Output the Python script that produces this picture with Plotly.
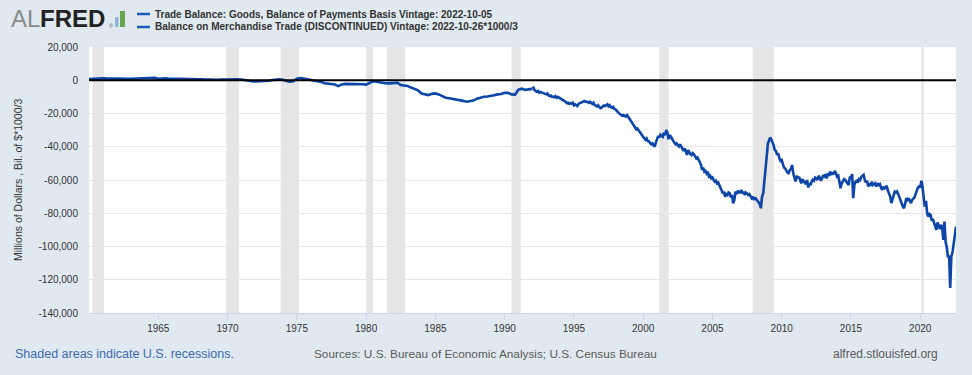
import plotly.graph_objects as go
import pandas as pd

# ---------------- data ----------------
# Balance on Merchandise Trade (DISCONTINUED), quarterly, Bil. of $ * 1000/3
old_start = "1960-01-01"
old_values = [
    700, 900, 1000, 1100,        # 1960
    1200, 1100, 1000, 1000,      # 1961
    1000, 900, 900, 800,         # 1962
    900, 1000, 1100, 1200,       # 1963
    1300, 1300, 1400, 1400,      # 1964
    900, 1200, 1100, 1000,       # 1965
    1000, 900, 800, 700,         # 1966
    900, 900, 1000, 800,         # 1967
    600, 500, 400, 300,          # 1968
    100, 300, 400, 500,          # 1969
    700, 800, 800, 600,          # 1970
    500, 0, -300, -600,          # 1971
    -700, -700, -500, -400,      # 1972
    -300, 100, 400, 500,         # 1973
    300, -500, -800, -600,       # 1974
    900, 1300, 1100, 700,        # 1975
    200, -300, -700, -1000,      # 1976
    -1800, -2100, -2400, -2600,  # 1977
    -3500, -2500, -2200, -2200,  # 1978
    -2300, -2400, -2000, -2400,  # 1979
    -2600, -1800, -600, -900,    # 1980
    -1200, -1800, -1900, -1900,  # 1981
    -1600, -1500, -2800, -3100,  # 1982
    -3500, -4400, -5200, -6100,  # 1983
    -8000, -8600, -8900, -8200,  # 1984
    -7900, -8500, -9500, -10500, # 1985
    -10800, -11100, -11800, -12000,  # 1986
    -12400, -12900, -12700, -12200,  # 1987
    -11100, -10400, -9900, -9800,    # 1988
    -9600, -9000, -8500, -8300,      # 1989
    -7600, -7600, -8500, -8600,      # 1990
    -5700, -5100, -5800, -5400,      # 1991
    -5200,                           # 1992
]

# Trade Balance: Goods, Balance of Payments Basis, monthly, Millions of Dollars
new_start = "1992-01-01"
new_values = [
    -5000, -4500, -6000, -6500, -7000, -6500, -7500, -7000, -7200, -7800, -7600, -8200,            # 1992
    -8500, -8000, -9000, -9500, -9200, -10000, -9800, -10200, -9600, -10500, -10000, -10400,       # 1993
    -10500, -11000, -11200, -12000, -12500, -13000, -13800, -13500, -14200, -13800, -14000, -13500,  # 1994
    -15000, -14500, -14800, -15500, -14200, -13800, -13500, -13200, -12800, -12500, -13000, -12800,  # 1995
    -13200, -13600, -13000, -14000, -14200, -13500, -15000, -15200, -15800, -15000, -16200, -16800,  # 1996
    -16500, -16000, -15200, -15500, -14800, -14500, -15600, -15000, -16200, -16500, -16000, -17200,  # 1997
    -17500, -18000, -19000, -19800, -20200, -20800, -21500, -21000, -21500, -21800, -21000, -22500,  # 1998
    -23000, -24000, -25000, -26500, -27000, -28500, -29500, -29000, -30500, -31000, -32000, -33500,  # 1999
    -34000, -35000, -35800, -35000, -36500, -36800, -37500, -38500, -38000, -39500, -40000, -37500,  # 2000
    -36000, -33500, -34500, -32800, -33500, -34000, -31500, -33000, -30000, -31400, -35500, -33000,  # 2001
    -34000, -35500, -36000, -37500, -38500, -38000, -39000, -39800, -38500, -40000, -41500, -42500,  # 2002
    -41000, -43000, -44900, -42000, -43500, -44500, -45000, -43800, -44500, -45500, -47000, -46500,  # 2003
    -48000, -49500, -50500, -53900, -52500, -55000, -54500, -56000, -55000, -58000, -57500, -59000,  # 2004
    -58500, -59900, -61000, -60500, -62000, -61500, -63000, -64500, -65500, -68000, -67000, -70000,  # 2005
    -68500, -69000, -67500, -68000, -70500, -69000, -74000, -72000, -67000, -68500, -66500, -67500,  # 2006
    -67500, -66000, -68000, -67000, -68900, -67500, -68000, -69000, -68500, -70000, -70900, -70000,  # 2007
    -72000, -70500, -71500, -73000, -74000, -74500, -77000, -70000, -68000, -62000, -54000, -46000,  # 2008
    -38000, -36000, -34500, -35500, -37000, -39000, -42000, -42500, -44900, -44000, -47000, -48500,  # 2009
    -48000, -50500, -52500, -53000, -54500, -55500, -55900, -54000, -53500, -51000, -56000, -58500,  # 2010
    -60900, -57500, -59000, -58000, -60000, -62000, -59500, -60500, -61500, -62500, -60000, -64500,  # 2011
    -62000, -63000, -61000, -59900, -60500, -58500, -59000, -60000, -57500, -58500, -60500, -58000,  # 2012
    -57000, -58500, -56500, -59000, -56000, -57500, -54900, -57000, -55500, -56500, -54500, -56000,  # 2013
    -58000, -57500, -60500, -64900, -62000, -60500, -59500, -59900, -61000, -62500, -63000, -58500,  # 2014
    -58500, -56500, -70900, -62900, -61000, -60500, -61500, -59500, -60000, -58000, -57500, -56900,  # 2015
    -60000, -61500, -60500, -63900, -62000, -63500, -61000, -63000, -62500, -62000, -64000, -61900,  # 2016
    -63000, -62500, -64500, -65900, -64000, -65000, -64500, -63500, -66500, -68000, -70000, -73900,  # 2017
    -71500, -70000, -67000, -67500, -66900, -68500, -70500, -72000, -74500, -76000, -76900, -74500,  # 2018
    -70900, -72000, -71000, -72500, -73900, -72000, -71000, -70500, -68500, -66500, -64500, -63900,  # 2019
    -64500, -60500, -63900, -70500, -76000, -72500, -80000, -82000, -80500, -81000, -84500, -83500,  # 2020
    -86500, -88000, -90000, -85500, -87500, -89500, -86900, -88500, -96000, -85000, -97500, -100500,  # 2021
    -106500, -105500, -125000, -106000, -103500, -98500, -91000, -88000,                             # 2022
]

series_names = [
    "Trade Balance: Goods, Balance of Payments Basis Vintage: 2022-10-05",
    "Balance on Merchandise Trade (DISCONTINUED) Vintage: 2022-10-26*1000/3",
]

recession_starts = ["1960-04-01", "1969-12-01", "1973-11-01", "1980-01-01", "1981-07-01",
                    "1990-07-01", "2001-03-01", "2007-12-01", "2020-02-01"]
recession_ends = ["1961-02-01", "1970-11-01", "1975-03-01", "1980-07-01", "1982-11-01",
                  "1991-03-01", "2001-11-01", "2009-06-01", "2020-04-01"]

y_tick_values = [20000, 0, -20000, -40000, -60000, -80000, -100000, -120000, -140000]
y_tick_labels = ["20,000", "0", "-20,000", "-40,000", "-60,000", "-80,000",
                 "-100,000", "-120,000", "-140,000"]
x_tick_dates = ["1965-01-01", "1970-01-01", "1975-01-01", "1980-01-01", "1985-01-01", "1990-01-01",
                "1995-01-01", "2000-01-01", "2005-01-01", "2010-01-01", "2015-01-01", "2020-01-01"]
x_tick_labels = ["1965", "1970", "1975", "1980", "1985", "1990",
                 "1995", "2000", "2005", "2010", "2015", "2020"]

# ---------------- figure ----------------
LINE = "#0b46a8"
BG = "#e1e9f0"
FONT = "Liberation Sans, Arial, sans-serif"

W, H = 972, 375
ML, MR, MT, MB = 89, 16, 47, 62
PW, PH = W - ML - MR, H - MT - MB


def px_x(v):
    return (v - ML) / PW


def px_y(v):
    return (H - MB - v) / PH


old_dates = pd.date_range(old_start, periods=len(old_values), freq="QS")
new_dates = pd.date_range(new_start, periods=len(new_values), freq="MS")

fig = go.Figure()
fig.add_trace(go.Scatter(x=old_dates, y=old_values, mode="lines", name=series_names[1],
                         line=dict(color=LINE, width=2.6), showlegend=False))
fig.add_trace(go.Scatter(x=new_dates, y=new_values, mode="lines", name=series_names[0],
                         line=dict(color=LINE, width=2.6), showlegend=False))

shapes = []
for s, e in zip(recession_starts, recession_ends):
    shapes.append(dict(type="rect", xref="x", yref="paper", x0=s, x1=e, y0=0, y1=1,
                       fillcolor="#e5e5e5", line=dict(width=0), layer="below"))
# zero line
shapes.append(dict(type="line", xref="paper", yref="y", x0=0, x1=1, y0=0, y1=0,
                   line=dict(color="#000000", width=2), layer="above"))
# legend marks
for yy in [14, 27]:
    shapes.append(dict(type="line", xref="paper", yref="paper",
                       x0=px_x(137), x1=px_x(150), y0=px_y(yy), y1=px_y(yy),
                       line=dict(color="#1a5bb8", width=2.5)))
# logo icon bars
shapes.append(dict(type="rect", xref="paper", yref="paper", x0=px_x(115), x1=px_x(118.5),
                   y0=px_y(27), y1=px_y(17), fillcolor="#8fb3d9", line=dict(width=0)))
shapes.append(dict(type="rect", xref="paper", yref="paper", x0=px_x(120), x1=px_x(125),
                   y0=px_y(27), y1=px_y(11), fillcolor="#6aa84f", line=dict(width=0)))

annotations = [
    dict(text="AL", xref="paper", yref="paper", x=px_x(9), y=px_y(18.5), xanchor="left", yanchor="middle",
         showarrow=False, font=dict(family=FONT, size=24, color="#8a8a8a")),
    dict(text="<b>FRED</b>", xref="paper", yref="paper", x=px_x(38), y=px_y(18.5), xanchor="left",
         yanchor="middle", showarrow=False, font=dict(family=FONT, size=24, color="#222222")),
    dict(text="®", xref="paper", yref="paper", x=px_x(107), y=px_y(26), xanchor="left", yanchor="middle",
         showarrow=False, font=dict(family=FONT, size=5, color="#555555")),
    dict(text="<b>" + series_names[0] + "</b>", xref="paper", yref="paper", x=px_x(153), y=px_y(14),
         xanchor="left", yanchor="middle", showarrow=False,
         font=dict(family=FONT, size=10, color="#333333")),
    dict(text="<b>" + series_names[1] + "</b>", xref="paper", yref="paper", x=px_x(153), y=px_y(27),
         xanchor="left", yanchor="middle", showarrow=False,
         font=dict(family=FONT, size=10, color="#333333")),
    dict(text="Millions of Dollars , Bil. of $*1000/3", xref="paper", yref="paper", x=px_x(18),
         y=0.5, xanchor="center", yanchor="middle", textangle=-90, showarrow=False,
         font=dict(family=FONT, size=10.5, color="#333333")),
    dict(text="Shaded areas indicate U.S. recessions.", xref="paper", yref="paper", x=px_x(13),
         y=px_y(354), xanchor="left", yanchor="middle", showarrow=False,
         font=dict(family=FONT, size=12.5, color="#3a6bb3")),
    dict(text="Sources: U.S. Bureau of Economic Analysis; U.S. Census Bureau", xref="paper", yref="paper",
         x=px_x(312), y=px_y(354), xanchor="left", yanchor="middle", showarrow=False,
         font=dict(family=FONT, size=11.8, color="#595959")),
    dict(text="alfred.stlouisfed.org", xref="paper", yref="paper", x=px_x(940), y=px_y(354),
         xanchor="right", yanchor="middle", showarrow=False,
         font=dict(family=FONT, size=12, color="#595959")),
]

fig.update_layout(
    width=W, height=H,
    margin=dict(l=ML, r=MR, t=MT, b=MB, pad=0),
    paper_bgcolor=BG, plot_bgcolor="#ffffff",
    font=dict(family=FONT, color="#333333"),
    shapes=shapes, annotations=annotations,
    showlegend=False,
    xaxis=dict(type="date", range=[old_start, "2022-08-01"], tickvals=x_tick_dates, ticktext=x_tick_labels,
               showgrid=False, zeroline=False, showline=True, linecolor="#ccd6eb", linewidth=1,
               ticks="outside", ticklen=6, tickcolor="#ccd6eb", tickwidth=1,
               tickfont=dict(family=FONT, size=10, color="#333333"), automargin=False),
    yaxis=dict(range=[-140000, 20000], tickvals=y_tick_values, ticktext=y_tick_labels,
               showgrid=True, gridcolor="#e6e6e6", gridwidth=1, zeroline=False, showline=False,
               ticks="", ticklabelstandoff=10, automargin=False,
               tickfont=dict(family=FONT, size=10, color="#333333")),
)

fig.write_html(
    "out.html",
    config={"displayModeBar": False},
    post_script="document.body.style.margin='0';document.body.style.padding='0';"
                "document.body.style.background='#e1e9f0';document.body.style.overflow='hidden';",
)
